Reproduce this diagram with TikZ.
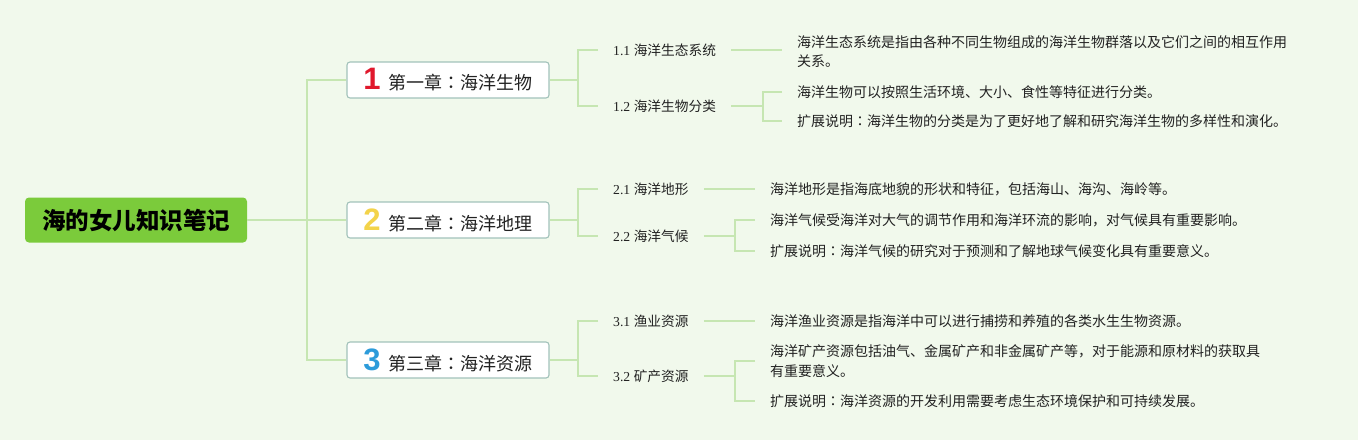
\documentclass[tikz,border=0pt]{standalone}
\usepackage{fontspec}
\setmainfont{Liberation Serif}
\newfontfamily\cjk{Noto Sans CJK SC}
\newfontfamily\cjkj{Noto Sans CJK JP}
\newfontfamily\numf{Liberation Sans}
\newcommand{\zcolon}{{\cjkj ：}}
\definecolor{bgc}{HTML}{F1F9EC}
\definecolor{rootc}{HTML}{7BCB3B}
\definecolor{linec}{HTML}{C6E6B2}
\definecolor{boxline}{HTML}{A2C2BA}
\definecolor{txt}{HTML}{222222}
\definecolor{nred}{HTML}{E0182C}
\definecolor{nyel}{HTML}{F3D34A}
\definecolor{nblue}{HTML}{2C9BDA}
\begin{document}
\begin{tikzpicture}[x=1pt,y=-1pt,
  conn/.style={draw=linec,line width=1.4pt},
  rootbox/.style={fill=rootc,rounded corners=4pt,minimum width=222pt,minimum height=45pt,inner sep=0pt,
     font=\cjk\bfseries\fontsize{23.5}{25}\selectfont,text=black},
  chapbox/.style={fill=white,draw=boxline,line width=1.1pt,rounded corners=3pt,minimum width=202pt,minimum height=36pt,inner sep=0pt,
     font=\cjk\fontsize{18}{20}\selectfont,text=txt},
  subt/.style={anchor=west,inner xsep=15pt,inner ysep=2pt,font=\fontsize{13.7}{16}\selectfont,text=txt},
  leaf/.style={anchor=west,inner xsep=15pt,inner ysep=2pt,align=left,font=\cjk\fontsize{14}{19.5}\selectfont,text=txt}]
\fill[bgc] (0,0) rectangle (1358,440);
\useasboundingbox (0,0) rectangle (1358,440);

% root
\node[rootbox] (root) at (136,220) {海的女儿知识笔记};

% chapters
\node[chapbox] (c1) at (448,80) {{\numf\bfseries\fontsize{31}{31}\selectfont\color{nred}1}\hspace{8pt}第一章\zcolon 海洋生物};
\node[chapbox] (c2) at (448,220) {{\numf\bfseries\fontsize{31}{31}\selectfont\color{nyel}2}\hspace{8pt}第二章\zcolon 海洋地理};
\node[chapbox] (c3) at (448,360) {{\numf\bfseries\fontsize{31}{31}\selectfont\color{nblue}3}\hspace{8pt}第三章\zcolon 海洋资源};

\coordinate (j0) at (307,220);
\draw[conn] (root.east) -- (j0);
\draw[conn] (c1.west) -- (c1.west -| j0) -- (c3.west -| j0) -- (c3.west);
\draw[conn] (j0) -- (c2.west);

% chapter 1
\node[subt] (s11) at (598,50) {1.1 {\cjk 海洋生态系统}};
\node[subt] (s12) at (598,106) {1.2 {\cjk 海洋生物分类}};
\coordinate (k1) at (578,80);
\draw[conn] (c1.east) -- (k1);
\draw[conn] (s11.west) -- (s11.west -| k1) -- (s12.west -| k1) -- (s12.west);

\node[leaf] (l11) at (782,51.5) {海洋生态系统是指由各种不同生物组成的海洋生物群落以及它们之间的相互作用\\关系。};
\node[leaf] (l12a) at (782,92) {海洋生物可以按照生活环境、大小、食性等特征进行分类。};
\node[leaf] (l12b) at (782,121) {扩展说明\zcolon 海洋生物的分类是为了更好地了解和研究海洋生物的多样性和演化。};
\draw[conn] (s11.east) -- (s11.east -| l11.west);
\coordinate (m12) at (763,106);
\draw[conn] (s12.east) -- (m12);
\draw[conn] (l12a.west) -- (l12a.west -| m12) -- (l12b.west -| m12) -- (l12b.west);

% chapter 2
\node[subt] (s21) at (598,189) {2.1 {\cjk 海洋地形}};
\node[subt] (s22) at (598,236) {2.2 {\cjk 海洋气候}};
\coordinate (k2) at (578,220);
\draw[conn] (c2.east) -- (k2);
\draw[conn] (s21.west) -- (s21.west -| k2) -- (s22.west -| k2) -- (s22.west);

\node[leaf] (l21) at (755,189) {海洋地形是指海底地貌的形状和特征，包括海山、海沟、海岭等。};
\node[leaf] (l22a) at (755,220) {海洋气候受海洋对大气的调节作用和海洋环流的影响，对气候具有重要影响。};
\node[leaf] (l22b) at (755,251) {扩展说明\zcolon 海洋气候的研究对于预测和了解地球气候变化具有重要意义。};
\draw[conn] (s21.east) -- (s21.east -| l21.west);
\coordinate (m22) at (735,236);
\draw[conn] (s22.east) -- (m22);
\draw[conn] (l22a.west) -- (l22a.west -| m22) -- (l22b.west -| m22) -- (l22b.west);

% chapter 3
\node[subt] (s31) at (598,321) {3.1 {\cjk 渔业资源}};
\node[subt] (s32) at (598,376) {3.2 {\cjk 矿产资源}};
\coordinate (k3) at (578,360);
\draw[conn] (c3.east) -- (k3);
\draw[conn] (s31.west) -- (s31.west -| k3) -- (s32.west -| k3) -- (s32.west);

\node[leaf] (l31) at (755,321) {海洋渔业资源是指海洋中可以进行捕捞和养殖的各类水生生物资源。};
\node[leaf] (l32a) at (755,361) {海洋矿产资源包括油气、金属矿产和非金属矿产等，对于能源和原材料的获取具\\有重要意义。};
\node[leaf] (l32b) at (755,401) {扩展说明\zcolon 海洋资源的开发利用需要考虑生态环境保护和可持续发展。};
\draw[conn] (s31.east) -- (s31.east -| l31.west);
\coordinate (m32) at (735,376);
\draw[conn] (s32.east) -- (m32);
\draw[conn] (l32a.west) -- (l32a.west -| m32) -- (l32b.west -| m32) -- (l32b.west);
\end{tikzpicture}
\end{document}
